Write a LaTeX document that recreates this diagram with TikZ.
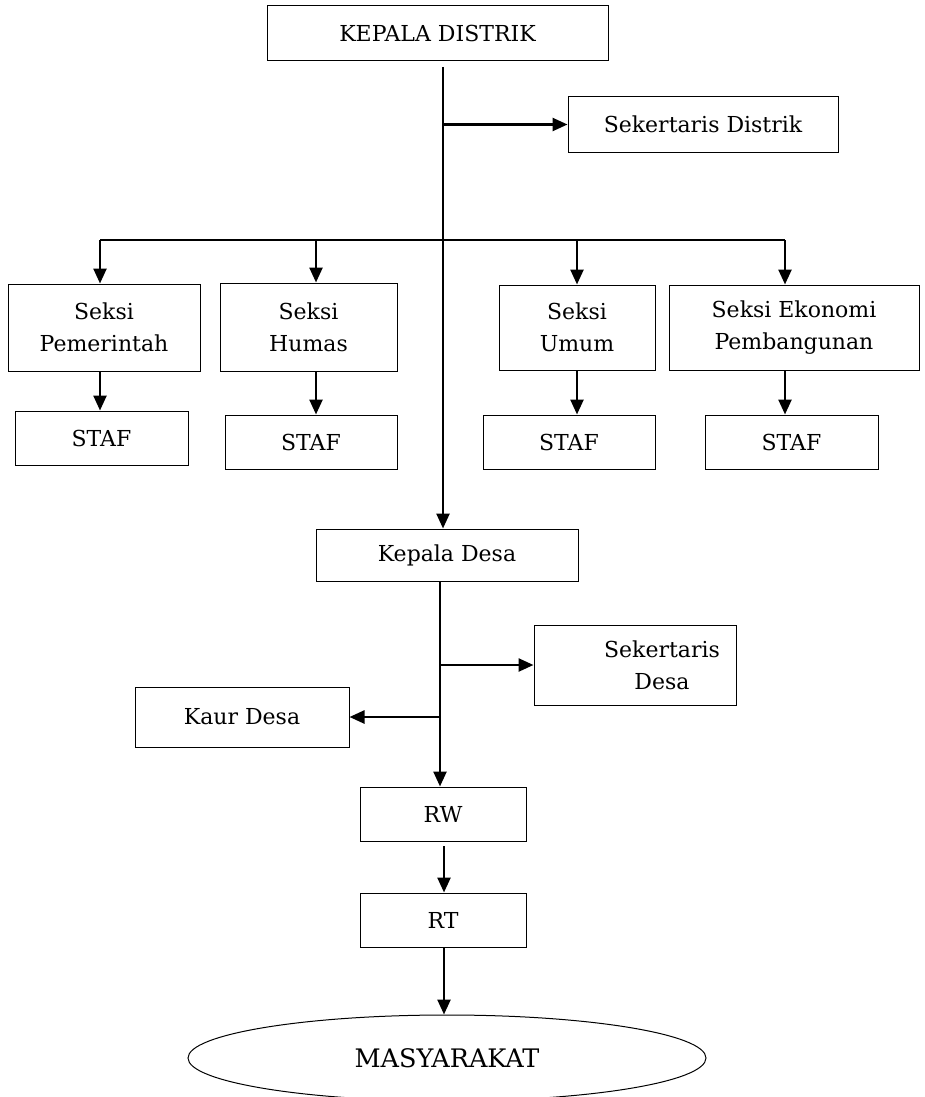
\documentclass[tikz,border=0pt]{standalone}
\usepackage{fontspec}
\setmainfont{DejaVu Serif}
\usetikzlibrary{arrows.meta,shapes.geometric}
\begin{document}
\begin{tikzpicture}[x=1pt,y=-1pt,
  txt/.style={font=\fontsize{22}{32}\selectfont},
  box/.style={draw,line width=1pt,rectangle,inner sep=0pt,align=center,txt},
  conn/.style={line width=2.5pt},
  arr/.style={line width=2.5pt,-{Triangle[length=15pt,width=13pt]}}]
\useasboundingbox (0,0) rectangle (924,1097);
% boxes
\node[box,minimum width=341,minimum height=55] (kd) at (437.5,33.5) {KEPALA DISTRIK};
\node[box,minimum width=270,minimum height=55] (sd) at (703,124.5) {Sekertaris Distrik};
\node[box,minimum width=192,minimum height=87] (sp) at (104,327.5) {Seksi\\Pemerintah};
\node[box,minimum width=177,minimum height=88] (sh) at (308.5,327) {Seksi\\Humas};
\node[box,minimum width=156,minimum height=85] (su) at (577,327.5) {Seksi\\Umum};
\node[box,minimum width=250,minimum height=85] (se) at (794,327.5) {Seksi Ekonomi\\Pembangunan};
\node[box,minimum width=173,minimum height=54] (st1) at (101.5,438) {STAF};
\node[box,minimum width=172,minimum height=54] (st2) at (311,442) {STAF};
\node[box,minimum width=172,minimum height=54] (st3) at (569,442) {STAF};
\node[box,minimum width=173,minimum height=54] (st4) at (791.5,442) {STAF};
\node[box,minimum width=262,minimum height=52] (kdesa) at (447,555) {Kepala Desa};
\node[box,minimum width=202,minimum height=80,
  label={[txt,align=center,xshift=27pt]center:Sekertaris\\Desa}] (sdesa) at (635,665) {};
\node[box,minimum width=214,minimum height=60] (kaur) at (242,717) {Kaur Desa};
\node[box,minimum width=166,minimum height=54] (rw) at (443,814) {RW};
\node[box,minimum width=166,minimum height=54] (rt) at (443,920) {RT};
\node[draw,line width=1pt,ellipse,minimum width=518,minimum height=86,inner sep=0pt,
  font=\fontsize{25.5}{30}\selectfont] (mas) at (447,1058) {MASYARAKAT};
% main spine
\coordinate (top) at (443,67);
\coordinate (hl) at (100,240);
\coordinate (hr) at (785,240);
\draw[arr] (top) -- (top |- kdesa.north);
\draw[arr] (top |- sd.west) -- (sd.west);
\draw[conn] (hl) -- (hr);
\draw[arr] (hl) -- (hl |- sp.north);
\draw[arr] (316,240) -- (316,240 |- sh.north);
\draw[arr] (577,240) -- (su.north);
\draw[arr] (hr) -- (hr |- se.north);
% staf
\draw[arr] (100,240 |- sp.south) -- (100,240 |- st1.north);
\draw[arr] (316,240 |- sh.south) -- (316,240 |- st2.north);
\draw[arr] (577,240 |- su.south) -- (577,240 |- st3.north);
\draw[arr] (hr |- se.south) -- (hr |- st4.north);
% desa
\coordinate (dl) at (440,581);
\draw[arr] (dl) -- (dl |- rw.north);
\draw[arr] (440,665) -- (sdesa.west);
\draw[arr] (440,717) -- (kaur.east);
\coordinate (rwb) at (444,846);
\draw[arr] (rwb) -- (rwb |- rt.north);
\draw[arr] (rt.south -| rwb) -- (rwb |- mas.north);
\end{tikzpicture}
\end{document}
